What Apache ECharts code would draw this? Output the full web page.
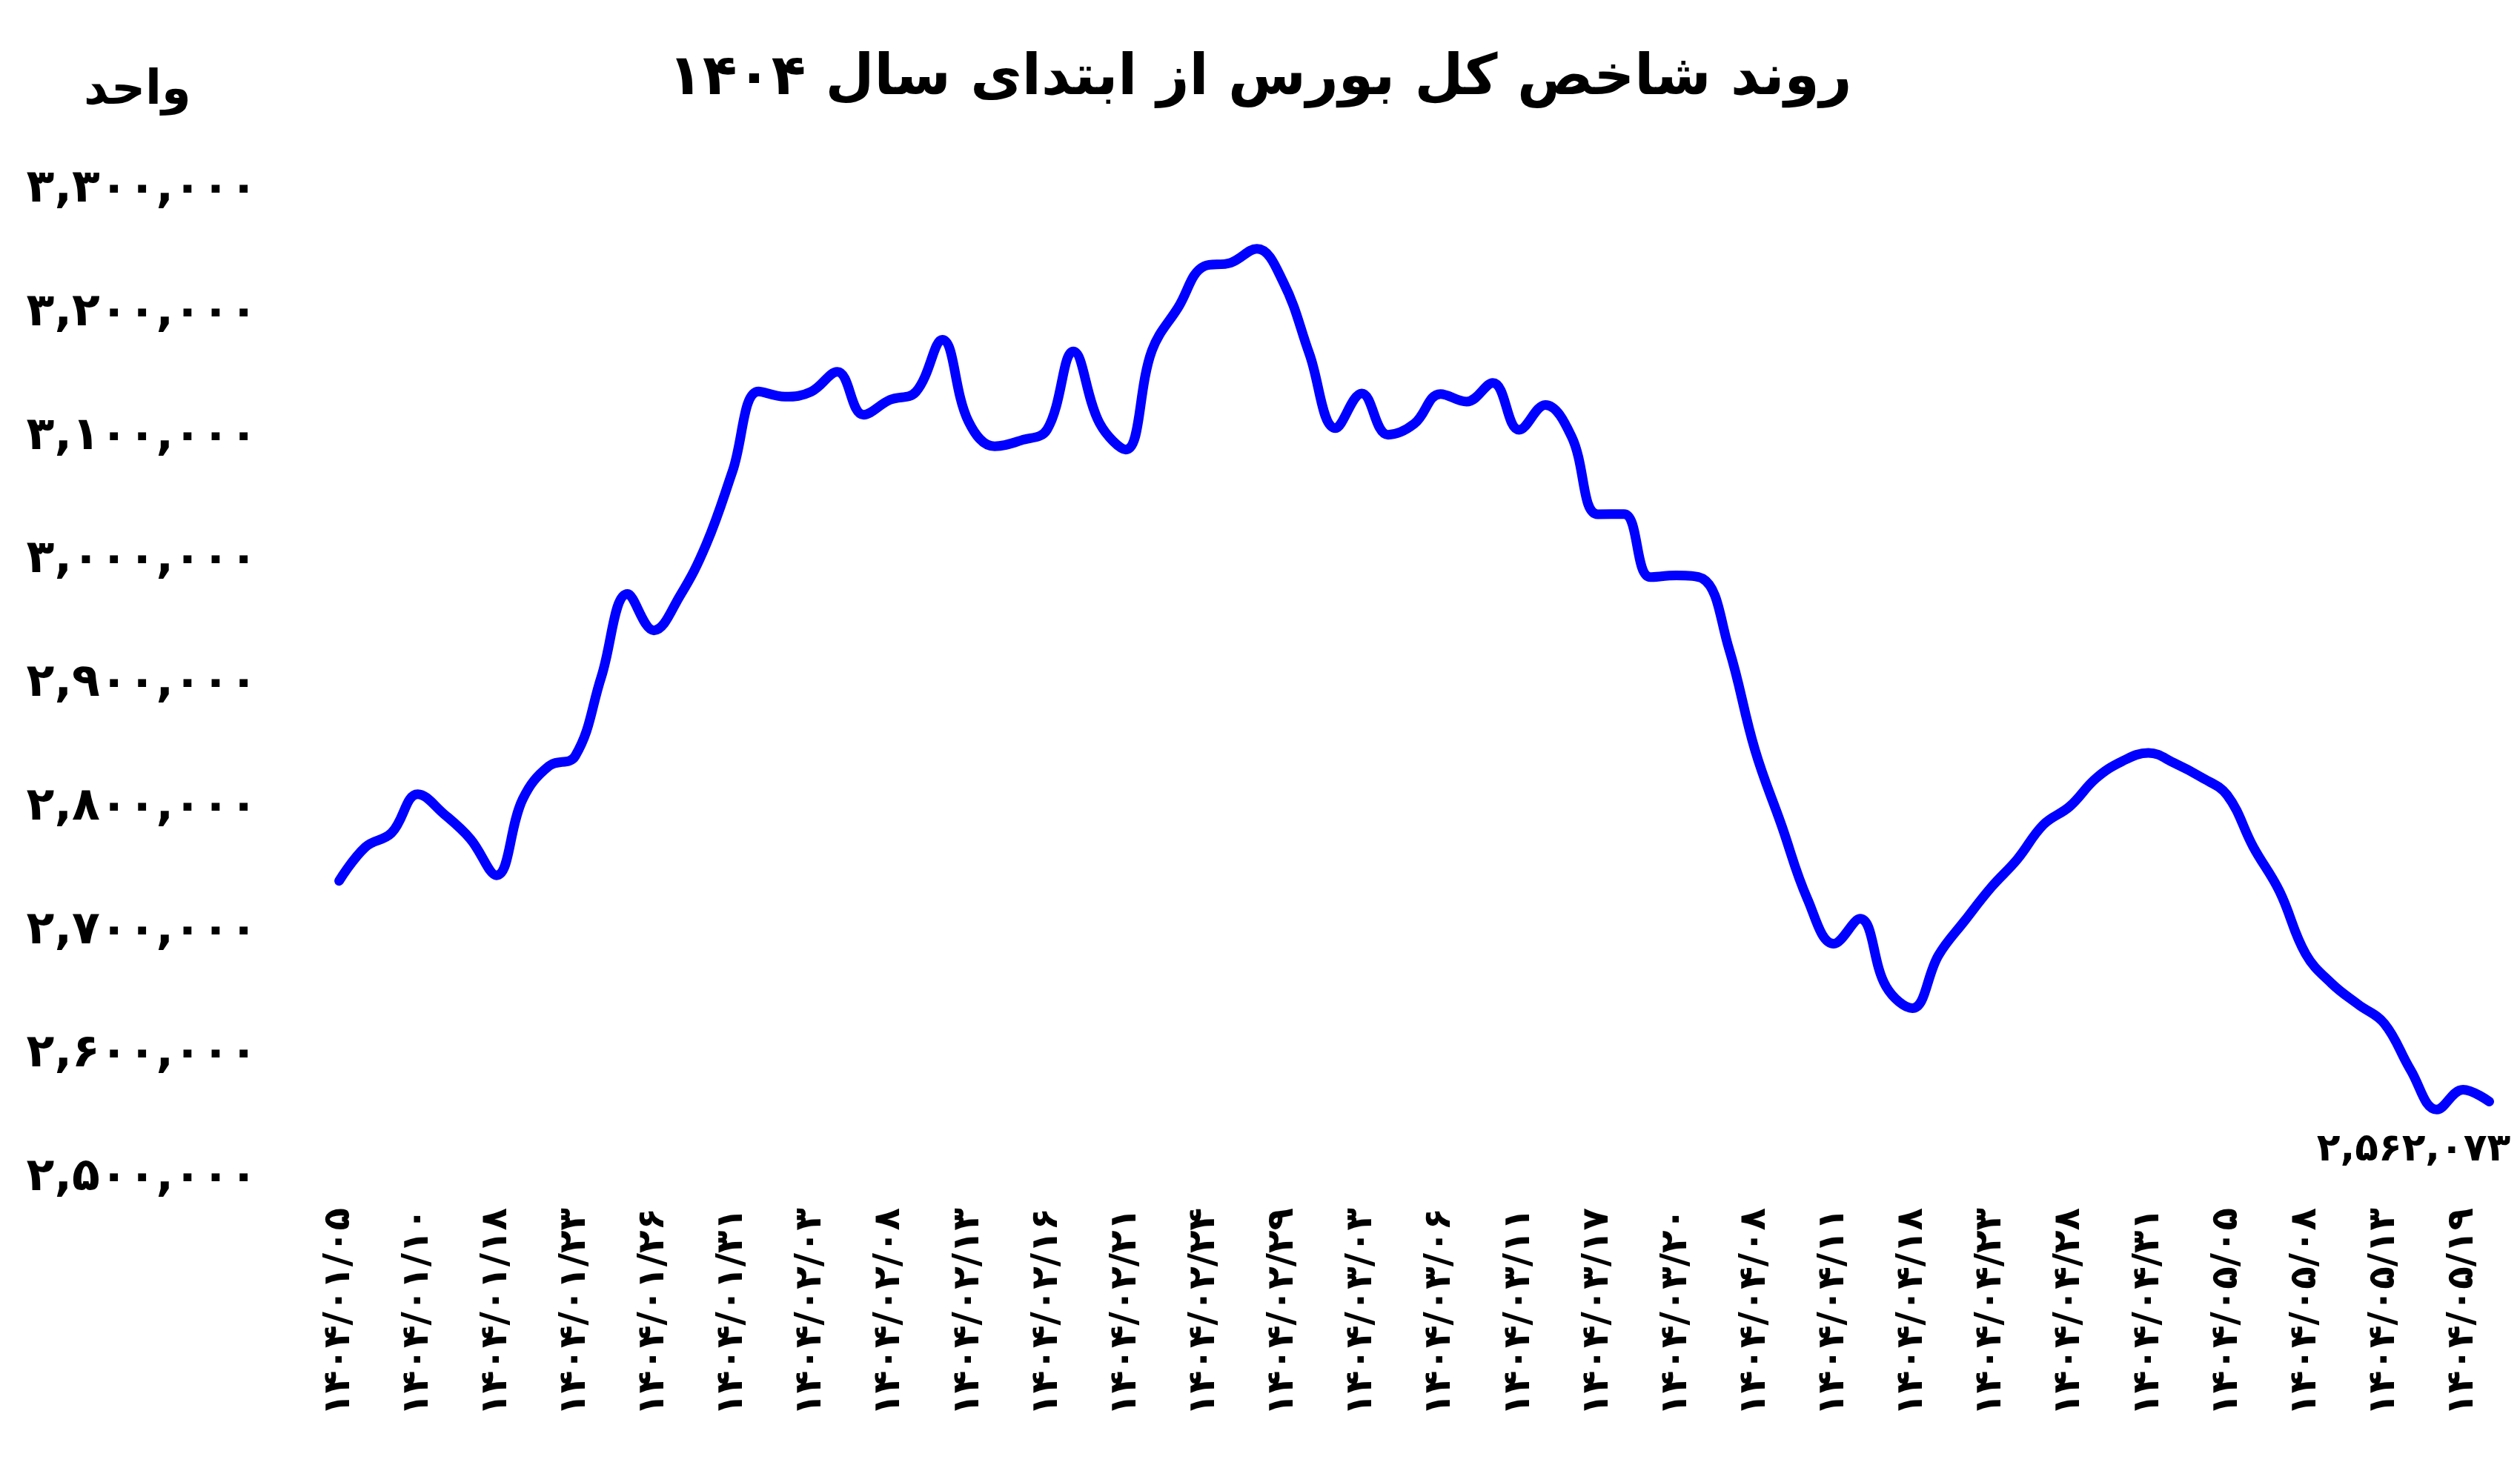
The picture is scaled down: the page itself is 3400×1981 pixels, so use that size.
<!DOCTYPE html>
<html lang="fa">
<head>
<meta charset="utf-8">
<title>روند شاخص کل بورس</title>
<script src="https://cdn.jsdelivr.net/npm/echarts@6/dist/echarts.min.js"></script>
<style>
  html, body { margin: 0; padding: 0; background: #ffffff; }
  #chart { width: 100vw; height: 100vh; }
</style>
</head>
<body>
<div id="chart"></div>
<script>
const dates = [
  '1404/01/05', '1404/01/06', '1404/01/09', '1404/01/10', '1404/01/11', '1404/01/17',
  '1404/01/18', '1404/01/19', '1404/01/20', '1404/01/23', '1404/01/24', '1404/01/25',
  '1404/01/26', '1404/01/27', '1404/01/30', '1404/01/31', '1404/02/01', '1404/02/02',
  '1404/02/03', '1404/02/06', '1404/02/07', '1404/02/08', '1404/02/09', '1404/02/10',
  '1404/02/13', '1404/02/14', '1404/02/15', '1404/02/16', '1404/02/17', '1404/02/20',
  '1404/02/21', '1404/02/22', '1404/02/23', '1404/02/24', '1404/02/27', '1404/02/28',
  '1404/02/29', '1404/02/30', '1404/02/31', '1404/03/03', '1404/03/04', '1404/03/05',
  '1404/03/06', '1404/03/07', '1404/03/10', '1404/03/11', '1404/03/12', '1404/03/13',
  '1404/03/17', '1404/03/18', '1404/03/19', '1404/03/20', '1404/03/21', '1404/04/07',
  '1404/04/08', '1404/04/09', '1404/04/10', '1404/04/11', '1404/04/16', '1404/04/17',
  '1404/04/18', '1404/04/21', '1404/04/22', '1404/04/23', '1404/04/24', '1404/04/25',
  '1404/04/28', '1404/04/29', '1404/04/30', '1404/04/31', '1404/05/01', '1404/05/04',
  '1404/05/05', '1404/05/06', '1404/05/07', '1404/05/08', '1404/05/11', '1404/05/12',
  '1404/05/13', '1404/05/14', '1404/05/18', '1404/05/19', '1404/05/20'
];

// شاخص کل (واحد)
const indexValues = [
  2740700, 2768000, 2779500, 2810800, 2794700, 2774700,
  2745200, 2806800, 2833600, 2841600, 2905900, 2972800,
  2943400, 2971500, 3013000, 3072000, 3136700, 3132500,
  3136500, 3152600, 3117900, 3129900, 3136500, 3178500,
  3112500, 3092300, 3097100, 3105900, 3169100, 3111100,
  3089700, 3170000, 3204800, 3238200, 3240900, 3252200,
  3225500, 3167300, 3107000, 3135100, 3101700, 3110500,
  3134700, 3128500, 3143700, 3105700, 3125800, 3100300,
  3037400, 3037500, 2986500, 2987800, 2985300, 2928900,
  2846400, 2786200, 2725900, 2689800, 2710000, 2655000,
  2637600, 2680600, 2708500, 2735300, 2758100, 2786200,
  2800900, 2823600, 2837400, 2844300, 2835900, 2824700,
  2810200, 2768200, 2732300, 2681500, 2657400, 2640700,
  2625200, 2587700, 2555600, 2571700, 2562073
];

const yMin = 2500000;
const yMax = 3300000;
const yStep = 100000;

const FONT = 'DejaVu Sans';
const faDigits = ['۰', '۱', '۲', '۳', '۴', '۵', '۶', '۷', '۸', '۹'];
const toFa = (s) => String(s).replace(/[0-9]/g, (d) => faDigits[Number(d)]);
const withCommas = (n) => Math.round(n).toString().replace(/\B(?=(\d{3})+(?!\d))/g, ',');

const chart = echarts.init(document.getElementById('chart'), null, { renderer: 'canvas' });

chart.setOption({
  animation: false,
  backgroundColor: '#ffffff',
  title: [
    {
      text: 'روند شاخص کل بورس از ابتدای سال ۱۴۰۴',
      left: 'center',
      top: 64,
      textStyle: { fontFamily: FONT, fontSize: 76, fontWeight: 'bold', color: '#000000' },
    },
    {
      text: 'واحد',
      left: 108,
      top: 86,
      textStyle: { fontFamily: FONT, fontSize: 64, fontWeight: 'bold', color: '#000000' },
    },
  ],
  grid: {
    left: 457.6,
    right: 41.5,
    top: 256,
    bottom: 391,
    containLabel: false,
  },
  xAxis: {
    type: 'category',
    data: dates,
    boundaryGap: false,
    axisLine: { show: false },
    axisTick: { show: false },
    splitLine: { show: false },
    axisLabel: {
      interval: 2,
      rotate: 90,
      margin: 40,
      fontFamily: FONT,
      fontSize: 50,
      fontWeight: 'bold',
      color: '#000000',
      formatter: (v) => toFa(v),
    },
  },
  yAxis: {
    type: 'value',
    min: yMin,
    max: yMax,
    interval: yStep,
    axisLine: { show: false },
    axisTick: { show: false },
    splitLine: { show: false },
    axisLabel: {
      margin: 110,
      padding: [0, 0, 24, 0],
      fontFamily: FONT,
      fontSize: 62,
      fontWeight: 'bold',
      color: '#000000',
      formatter: (v) => toFa(withCommas(v)),
    },
  },
  series: [
    {
      type: 'line',
      data: indexValues,
      smooth: 0.4,
      showSymbol: false,
      symbol: 'none',
      lineStyle: { color: '#0000ff', width: 13, cap: 'round', join: 'round' },
      endLabel: {
        show: true,
        align: 'center',
        verticalAlign: 'top',
        offset: [-110, 40],
        fontFamily: FONT,
        fontSize: 52,
        fontWeight: 'bold',
        color: '#000000',
        formatter: (p) => toFa(withCommas(p.value)),
      },
    },
  ],
});

window.addEventListener('resize', () => chart.resize());
</script>
</body>
</html>
